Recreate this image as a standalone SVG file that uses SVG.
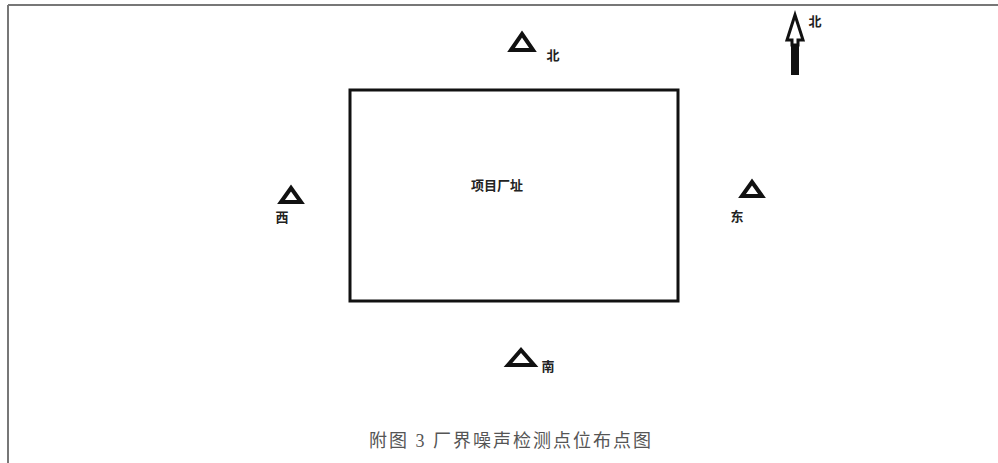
<svg xmlns="http://www.w3.org/2000/svg" width="998" height="463" viewBox="0 0 998 463">
<style>
.frame{stroke:#777;stroke-width:2;fill:none}
.tri{fill:none;stroke:#111;stroke-width:4;stroke-linejoin:miter}
.lbl{font-family:"Noto Sans CJK SC",sans-serif;font-weight:bold;font-size:13px;fill:#222}
.cap{font-family:"Liberation Serif","Noto Sans CJK SC",serif;font-size:18px;fill:#555;letter-spacing:2px}
</style>
<rect width="998" height="463" fill="#fff"/>
<g id="frame">
<line class="frame" x1="8" y1="5" x2="998" y2="5"/>
<line class="frame" x1="8" y1="5" x2="8" y2="463"/>
</g>
<g id="site">
<rect x="350" y="90" width="328" height="211" fill="none" stroke="#111" stroke-width="3"/>
<text class="lbl" x="497" y="190" text-anchor="middle">项目厂址</text>
</g>
<g id="pt-north">
<polygon class="tri" points="522,34 533,50 511,50"/>
<text class="lbl" x="553" y="60" text-anchor="middle">北</text>
</g>
<g id="pt-west">
<polygon class="tri" points="291,188 301,202 281,202"/>
<text class="lbl" x="282" y="222" text-anchor="middle">西</text>
</g>
<g id="pt-east">
<polygon class="tri" points="752,182 762,196 742,196"/>
<text class="lbl" x="737" y="221" text-anchor="middle">东</text>
</g>
<g id="pt-south">
<polygon class="tri" points="521,350 534,365 508,365"/>
<text class="lbl" x="548" y="371" text-anchor="middle">南</text>
</g>
<g id="compass">
<polygon points="795,15 803,40 798,40 798,45 792,45 792,40 787,40" fill="#fff" stroke="#111" stroke-width="3"/>
<rect x="791" y="45" width="8" height="30" fill="#111"/>
<text class="lbl" x="815" y="26" text-anchor="middle">北</text>
</g>
<g id="caption">
<text class="cap" x="511" y="447" text-anchor="middle">附图 3 厂界噪声检测点位布点图</text>
</g>
</svg>
